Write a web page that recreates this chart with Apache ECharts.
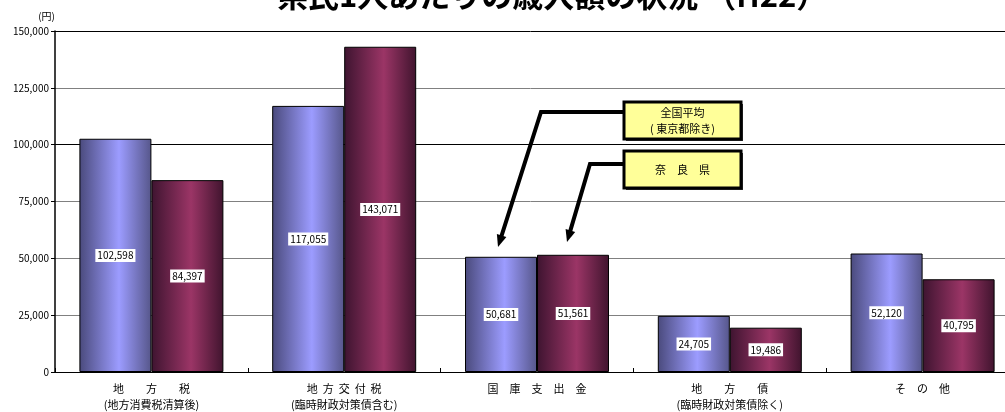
<!DOCTYPE html>
<html><head><meta charset="utf-8">
<script src="https://cdn.jsdelivr.net/npm/echarts@6/dist/echarts.min.js"></script>
<style>html,body{margin:0;padding:0;background:#fff}#c{width:1005px;height:412px}</style>
</head><body><div id="c"></div>
<script>
const titleText = '県民1人あたりの歳入額の状況 （H22）';
const categories = ['地　　方　　税\n(地方消費税清算後)', '地  方  交  付  税\n(臨時財政対策債含む)', '国　庫　支　出　金', '地　　方　　債\n(臨時財政対策債除く)', 'そ　の　他'];
const seriesNames = ['全国平均（東京都除き）', '奈良県'];
const nationalAvg = [102598, 117055, 50681, 24705, 52120];
const nara = [84397, 143071, 51561, 19486, 40795];
const yTicks = [0, 25000, 50000, 75000, 100000, 125000, 150000];

const font = '"Noto Sans CJK JP", "Noto Sans", sans-serif';
function grad(edge1, mid, edge2) {
  return new echarts.graphic.LinearGradient(0, 0, 1, 0, [
    {offset: 0, color: edge1}, {offset: 0.55, color: mid}, {offset: 1, color: edge2}
  ]);
}
const labelStyle = {
  show: true, position: 'inside', color: '#000', fontSize: 10, fontFamily: font,
  backgroundColor: '#fff', padding: [2, 2, 1, 2],
  formatter: p => p.value.toLocaleString('en-US')
};

const chart = echarts.init(document.getElementById('c'));
const option = {
  animation: false,
  title: {text: titleText, left: 272, top: -25,
    textStyle: {fontSize: 31, fontWeight: 'bold', color: '#000', fontFamily: font}},
  grid: {left: 55, top: 31, width: 964, bottom: 40, containLabel: false, outerBoundsMode: 'none'},
  xAxis: {
    type: 'category', data: categories,
    axisLine: {lineStyle: {color: '#000', width: 1}},
    axisTick: {show: true, inside: true, length: 4, lineStyle: {color: '#000'}},
    axisLabel: {color: '#000', fontSize: 11, lineHeight: 16, margin: 9, fontFamily: font, interval: 0}
  },
  yAxis: {
    type: 'value', min: 0, max: 150000, interval: 25000,
    name: '(円)', nameLocation: 'end', nameGap: 10,
    nameTextStyle: {color: '#000', fontSize: 10, fontFamily: font, align: 'right', padding: [0, 0, 0, 0]},
    axisLine: {show: true, lineStyle: {color: '#000', width: 1.5}},
    axisTick: {show: true, length: 4, lineStyle: {color: '#000'}},
    axisLabel: {color: '#000', fontSize: 10, fontFamily: font, margin: 6,
      formatter: v => yTicks.includes(v) ? v.toLocaleString('en-US') : ''},
    splitLine: {show: true, lineStyle: {color: ['#000', '#808080', '#808080', '#808080', '#000', '#808080', '#000'], width: 1}}
  },
  series: [
    {name: seriesNames[0], type: 'bar', data: nationalAvg, barWidth: 72, barGap: '0%',
      itemStyle: {color: grad('#4a4a7c', '#9c9cff', '#56568a'), borderColor: '#000', borderWidth: 1},
      label: labelStyle},
    {name: seriesNames[1], type: 'bar', data: nara, barWidth: 72,
      itemStyle: {color: grad('#3e1430', '#9b3566', '#40142e'), borderColor: '#000', borderWidth: 1},
      label: labelStyle}
  ]
};
chart.setOption(option);

function arrow(points) {
  const n = points.length;
  const [tx, ty] = points[n - 1], [px, py] = points[n - 2];
  const dx = tx - px, dy = ty - py, L = Math.hypot(dx, dy);
  const ux = dx / L, uy = dy / L, hl = 12, hw = 5;
  const bx = tx - ux * hl, by = ty - uy * hl;
  const shaft = points.slice(0, n - 1).concat([[bx + ux * 2, by + uy * 2]]);
  return [
    {type: 'polyline', shape: {points: shaft}, style: {stroke: '#000', lineWidth: 4, fill: null, lineJoin: 'miter'}, z: 100},
    {type: 'polygon', shape: {points: [[tx, ty], [bx - uy * hw, by + ux * hw], [bx + uy * hw, by - ux * hw]]}, style: {fill: '#000'}, z: 100}
  ];
}
function box(x, y, w, h, text, lh) {
  return [
    {type: 'rect', shape: {x: x + 2, y: y + 2, width: w, height: h}, style: {fill: '#333'}, z: 100},
    {type: 'rect', shape: {x: x, y: y, width: w, height: h}, style: {fill: '#ffff99', stroke: '#000', lineWidth: 3}, z: 101},
    {type: 'text', x: x + w / 2, y: y + h / 2, z: 102,
      style: {text: text, fill: '#000', font: '11px ' + font, align: 'center', verticalAlign: 'middle', lineHeight: lh}}
  ];
}
chart.setOption({graphic: [].concat(
  arrow([[623, 112], [541, 112], [498, 247]]),
  arrow([[623, 164], [590, 164], [567, 242]]),
  box(624, 102, 117, 37, '全国平均\n( 東京都除き)', 16),
  box(624, 151, 117, 37, '奈　良　県', 16)
)});
</script></body></html>
